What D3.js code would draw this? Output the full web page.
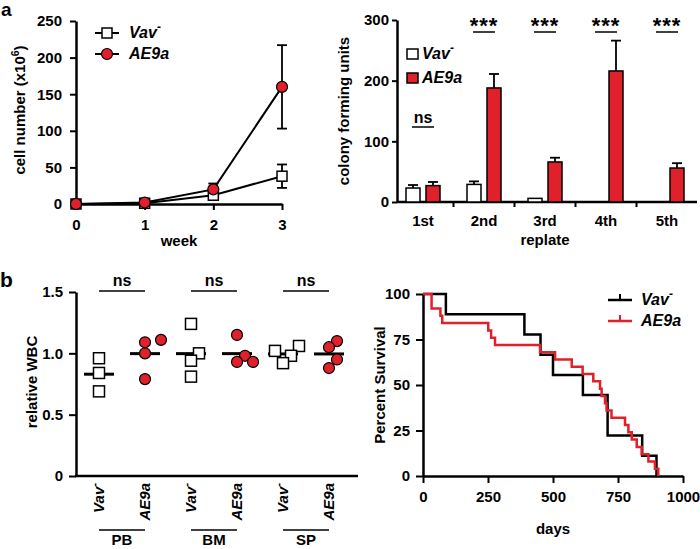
<!DOCTYPE html>
<html><head><meta charset="utf-8">
<script src="https://cdn.jsdelivr.net/npm/d3@7"></script>
<style>
body{margin:0;background:#fff}
svg{font-family:"Liberation Sans",Arial,Helvetica,sans-serif;font-weight:bold}
</style></head><body>
<svg id="c" width="700" height="549"></svg>
<script>
// ---------- data ----------
const weeks = [0, 1, 2, 3];
const vavCells = [0, 1, 12, 38];
const vavCellsErr = [0, 0.5, 2, 16];
const ae9aCells = [0, 2, 20, 160];
const ae9aCellsErr = [0, 1, 8, 57];
const cellTicks = [0, 50, 100, 150, 200, 250];

const replates = ["1st", "2nd", "3rd", "4th", "5th"];
const vavCFU = [23, 29, 6, 0, 0];
const vavCFUErr = [5, 5, 0, 0, 0];
const ae9aCFU = [27, 188, 66, 216, 56];
const ae9aCFUErr = [6, 23, 7, 50, 8];
const cfuSig = ["ns", "***", "***", "***", "***"];
const cfuTicks = [0, 100, 200, 300];

const tissues = ["PB", "BM", "SP"];
const genotypes = ["Vav", "AE9a"];
const wbcVav = [[0.96, 0.84, 0.69], [1.00, 1.24, 0.94, 0.81], [1.02, 1.06, 0.98, 0.92]];
const wbcAE9a = [[1.09, 1.11, 1.00, 0.79], [0.98, 1.15, 0.93, 0.93], [1.10, 1.05, 0.95, 0.88]];
const wbcSig = ["ns", "ns", "ns"];
const wbcTicks = [0, 0.5, 1.0, 1.5];

const vavDeaths = [88, 390, 452, 500, 615, 710, 710, 843, 898];
const ae9aDeaths = [33, 33, 67, 74, 251, 262, 277, 450, 508, 572, 614, 655, 681, 687, 700, 706, 725, 777, 790, 803, 822, 841, 867, 892, 905];
const dayTicks = [0, 250, 500, 750, 1000];
const survTicks = [0, 25, 50, 75, 100];

// ---------- helpers ----------
const RED = "#e0202a";
const FONT = '"Liberation Sans", Arial, Helvetica, sans-serif';
const svg = d3.select("#c");

function fmtAxis(g) {
  g.attr("font-size", 15).attr("font-family", FONT).attr("font-weight", "bold");
  g.select(".domain").attr("stroke", "#000").attr("stroke-width", 2.5);
  g.selectAll(".tick line").attr("stroke", "#000").attr("stroke-width", 2);
  g.selectAll(".tick text").attr("fill", "#000");
}
function genoText(sel, g) {
  if (g === "Vav") {
    sel.append("tspan").text("Vav");
    sel.append("tspan").attr("baseline-shift", "super").attr("font-size", "0.75em").text("-");
  } else {
    sel.append("tspan").text("AE9a");
  }
}
function yTitle(x, y, build) {
  const t = svg.append("text").attr("transform", `translate(${x},${y}) rotate(-90)`)
    .attr("text-anchor", "middle").attr("font-size", 15);
  build(t);
}
function xTitle(x, y, txt) {
  svg.append("text").attr("x", x).attr("y", y).attr("text-anchor", "middle").attr("font-size", 15).text(txt);
}

// panel letters
svg.append("text").attr("x", 1).attr("y", 16).attr("font-size", 19).text("a");
svg.append("text").attr("x", 0).attr("y", 287).attr("font-size", 21).text("b");

// ---------- panel a (left): growth ----------
{
  const x = d3.scaleLinear().domain([0, 3]).range([76, 282]);
  const y = d3.scaleLinear().domain([0, 250]).range([204, 21]);
  const g = svg.append("g");
  g.append("g").attr("transform", "translate(0,204)")
    .call(d3.axisBottom(x).tickValues(weeks).tickFormat(d3.format("d")).tickSize(6).tickPadding(9).tickSizeOuter(0))
    .call(fmtAxis);
  g.append("g").attr("transform", "translate(76,0)")
    .call(d3.axisLeft(y).tickValues(cellTicks).tickSize(6).tickPadding(8).tickSizeOuter(0))
    .call(fmtAxis);

  const series = [
    { vals: vavCells, err: vavCellsErr, key: "Vav" },
    { vals: ae9aCells, err: ae9aCellsErr, key: "AE9a" }
  ];
  const line = d3.line().x((d, i) => x(weeks[i])).y(d => y(d));
  series.forEach(s => {
    s.vals.forEach((v, i) => {
      const e = s.err[i];
      if (e < 3) return;
      const cx = x(weeks[i]);
      g.append("line").attr("x1", cx).attr("x2", cx).attr("y1", y(v - e)).attr("y2", y(v + e)).attr("stroke", "#000").attr("stroke-width", 1.8);
      [v - e, v + e].forEach(b => g.append("line").attr("x1", cx - 5).attr("x2", cx + 5).attr("y1", y(b)).attr("y2", y(b)).attr("stroke", "#000").attr("stroke-width", 1.8));
    });
  });
  series.forEach(s => {
    g.append("path").attr("d", line(s.vals)).attr("fill", "none").attr("stroke", "#000").attr("stroke-width", 2);
  });
  series.forEach(s => {
    s.vals.forEach((v, i) => {
      if (s.key === "Vav") {
        g.append("rect").attr("x", x(weeks[i]) - 5).attr("y", y(v) - 5).attr("width", 10).attr("height", 10)
          .attr("fill", "#fff").attr("stroke", "#000").attr("stroke-width", 1.5);
      } else {
        g.append("circle").attr("cx", x(weeks[i])).attr("cy", y(v)).attr("r", 5.5)
          .attr("fill", RED).attr("stroke", "#000").attr("stroke-width", 1.2);
      }
    });
  });
  // legend
  [["Vav", 33], ["AE9a", 54]].forEach(([k, ly]) => {
    g.append("line").attr("x1", 95).attr("x2", 119).attr("y1", ly).attr("y2", ly).attr("stroke", "#000").attr("stroke-width", 2);
    if (k === "Vav") g.append("rect").attr("x", 102).attr("y", ly - 5).attr("width", 10).attr("height", 10).attr("fill", "#fff").attr("stroke", "#000").attr("stroke-width", 1.5);
    else g.append("circle").attr("cx", 107).attr("cy", ly).attr("r", 5.5).attr("fill", RED).attr("stroke", "#000").attr("stroke-width", 1.2);
    const t = g.append("text").attr("x", 129).attr("y", ly + 5).attr("font-size", 16).attr("font-style", "italic");
    genoText(t, k);
  });
  yTitle(25, 110, t => {
    t.append("tspan").text("cell number (x10");
    t.append("tspan").attr("baseline-shift", "super").attr("font-size", "0.7em").text("6");
    t.append("tspan").text(")");
  });
  xTitle(179, 246, "week");
}

// ---------- panel a (right): colony forming units ----------
{
  const x = d3.scaleBand().domain(replates).range([392.5, 697.5]).paddingInner(0).paddingOuter(0);
  const xi = d3.scaleBand().domain(genotypes).range([13.5, 47.5]).paddingInner(0.3);
  const y = d3.scaleLinear().domain([0, 300]).range([202, 20]);
  const g = svg.append("g");
  g.append("g").attr("transform", "translate(397,0)")
    .call(d3.axisLeft(y).tickValues(cfuTicks).tickSize(5).tickPadding(3).tickSizeOuter(0))
    .call(fmtAxis);
  const xa = g.append("g").attr("transform", "translate(0,202)")
    .call(d3.axisBottom(x).tickSize(0).tickPadding(13)).call(fmtAxis);
  xa.select(".domain").remove();
  g.append("line").attr("x1", 397).attr("x2", 697).attr("y1", 202).attr("y2", 202).attr("stroke", "#000").attr("stroke-width", 2.5);
  replates.slice(1).forEach(r => {
    g.append("line").attr("x1", x(r)).attr("x2", x(r)).attr("y1", 202).attr("y2", 207).attr("stroke", "#000").attr("stroke-width", 2);
  });
  const groups = [
    { key: "Vav", vals: vavCFU, err: vavCFUErr, fill: "#fff" },
    { key: "AE9a", vals: ae9aCFU, err: ae9aCFUErr, fill: RED }
  ];
  groups.forEach(s => {
    s.vals.forEach((v, i) => {
      const bx = x(replates[i]) + xi(s.key), bw = xi.bandwidth();
      if (s.err[i] > 0) {
        const cx = bx + bw / 2;
        g.append("line").attr("x1", cx).attr("x2", cx).attr("y1", y(v)).attr("y2", y(v + s.err[i])).attr("stroke", "#000").attr("stroke-width", 1.8);
        g.append("line").attr("x1", cx - 5).attr("x2", cx + 5).attr("y1", y(v + s.err[i])).attr("y2", y(v + s.err[i])).attr("stroke", "#000").attr("stroke-width", 1.8);
      }
      if (v > 0) {
        g.append("rect").attr("x", bx).attr("y", y(v)).attr("width", bw).attr("height", y(0) - y(v))
          .attr("fill", s.fill).attr("stroke", "#000").attr("stroke-width", 1.5);
      }
    });
  });
  cfuSig.forEach((s, i) => {
    const r = replates[i];
    const x1 = x(r) + xi("Vav") + xi.bandwidth() / 2, x2 = x(r) + xi("AE9a") + xi.bandwidth() / 2;
    const ly = s === "ns" ? 127 : 32;
    g.append("line").attr("x1", x1 - 1).attr("x2", x2 + 1).attr("y1", ly).attr("y2", ly).attr("stroke", "#000").attr("stroke-width", 1.5);
    g.append("text").attr("x", (x1 + x2) / 2).attr("y", s === "ns" ? ly - 4 : ly + 1).attr("text-anchor", "middle")
      .attr("font-size", s === "ns" ? 16 : 22).attr("letter-spacing", s === "ns" ? 0 : 1).text(s);
  });
  // legend
  [["Vav", 49, "#fff"], ["AE9a", 73, RED]].forEach(([k, ly, f]) => {
    g.append("rect").attr("x", 407).attr("y", ly).attr("width", 11).attr("height", 10).attr("fill", f).attr("stroke", "#000").attr("stroke-width", 1.5);
    const t = g.append("text").attr("x", 422).attr("y", ly + 10).attr("font-size", 16).attr("font-style", "italic");
    genoText(t, k);
  });
  yTitle(349, 111, t => t.text("colony forming units"));
  xTitle(545, 245, "replate");
}

// ---------- panel b (left): relative WBC ----------
{
  const cats = tissues.flatMap(t => genotypes.map(gn => t + "|" + gn));
  const x = d3.scalePoint().domain(cats).range([99, 329]);
  const y = d3.scaleLinear().domain([0, 1.5]).range([476, 292]);
  const g = svg.append("g");
  g.append("g").attr("transform", "translate(76,0)")
    .call(d3.axisLeft(y).tickValues(wbcTicks).tickFormat(d => d === 0 ? "0" : d3.format(".1f")(d)).tickSize(7).tickPadding(6).tickSizeOuter(0))
    .call(fmtAxis);
  g.append("line").attr("x1", 75).attr("x2", 358).attr("y1", 476).attr("y2", 476).attr("stroke", "#000").attr("stroke-width", 2.5);

  // simple beeswarm placement (collision based)
  function swarm(vals, cx) {
    const D = 10, step = 8, placed = [];
    const order = vals.map((v, i) => i).sort((a, b) => vals[a] - vals[b]);
    const out = new Array(vals.length);
    order.forEach(i => {
      const py = y(vals[i]);
      for (const k of [0, 1, -1, 2, -2, 3, -3]) {
        const px = cx + k * step;
        if (placed.every(p => Math.hypot(p[0] - px, p[1] - py) >= D)) { placed.push([px, py]); out[i] = [px, py]; break; }
      }
    });
    return out;
  }

  tissues.forEach((t, ti) => {
    genotypes.forEach(gn => {
      const vals = gn === "Vav" ? wbcVav[ti] : wbcAE9a[ti];
      const cx = x(t + "|" + gn);
      const m = d3.mean(vals);
      g.append("line").attr("x1", cx - 15).attr("x2", cx + 15).attr("y1", y(m)).attr("y2", y(m)).attr("stroke", "#000").attr("stroke-width", 3);
      swarm(vals, cx).forEach(([px, py]) => {
        if (gn === "Vav") g.append("rect").attr("x", px - 5.5).attr("y", py - 5.5).attr("width", 11).attr("height", 11).attr("fill", "#fff").attr("stroke", "#000").attr("stroke-width", 1.5);
        else g.append("circle").attr("cx", px).attr("cy", py).attr("r", 5.5).attr("fill", RED).attr("stroke", "#000").attr("stroke-width", 1.2);
      });
      const lt = g.append("text").attr("transform", `translate(${cx},483) rotate(-90)`).attr("text-anchor", "end")
        .attr("dy", "0.35em").attr("font-size", 15).attr("font-style", "italic");
      genoText(lt, gn);
    });
    const x1 = x(t + "|Vav"), x2 = x(t + "|AE9a");
    g.append("line").attr("x1", x1).attr("x2", x2).attr("y1", 291).attr("y2", 291).attr("stroke", "#000").attr("stroke-width", 1.5);
    g.append("text").attr("x", (x1 + x2) / 2).attr("y", 286).attr("text-anchor", "middle").attr("font-size", 16).text(wbcSig[ti]);
    g.append("line").attr("x1", x1).attr("x2", x2).attr("y1", 530).attr("y2", 530).attr("stroke", "#000").attr("stroke-width", 1.5);
    g.append("text").attr("x", (x1 + x2) / 2).attr("y", 545).attr("text-anchor", "middle").attr("font-size", 15).text(t);
  });
  yTitle(37, 382, t => t.text("relative WBC"));
}

// ---------- panel b (right): survival ----------
{
  const x = d3.scaleLinear().domain([0, 1000]).range([423, 683]);
  const y = d3.scaleLinear().domain([0, 100]).range([476, 294]);
  const g = svg.append("g");
  g.append("g").attr("transform", "translate(0,476)")
    .call(d3.axisBottom(x).tickValues(dayTicks).tickFormat(d3.format("d")).tickSize(7).tickPadding(8).tickSizeOuter(0))
    .call(fmtAxis);
  g.append("g").attr("transform", "translate(423,0)")
    .call(d3.axisLeft(y).tickValues(survTicks).tickSize(7).tickPadding(6).tickSizeOuter(0))
    .call(fmtAxis);

  function km(deaths) {
    const n = deaths.length;
    const times = Array.from(new Set(deaths)).sort((a, b) => a - b);
    let atRisk = n, s = 100;
    const pts = [[0, 100]];
    times.forEach(t => {
      const d = deaths.filter(v => v === t).length;
      s = s * (1 - d / atRisk);
      atRisk -= d;
      pts.push([t, s]);
    });
    return pts;
  }
  const line = d3.line().x(d => x(d[0])).y(d => y(d[1])).curve(d3.curveStepAfter);
  g.append("path").attr("d", line(km(vavDeaths))).attr("fill", "none").attr("stroke", "#000").attr("stroke-width", 2.5);
  g.append("path").attr("d", line(km(ae9aDeaths))).attr("fill", "none").attr("stroke", RED).attr("stroke-width", 2.5);

  [["Vav", 300, "#000"], ["AE9a", 321, RED]].forEach(([k, ly, c]) => {
    g.append("line").attr("x1", 608).attr("x2", 632).attr("y1", ly).attr("y2", ly).attr("stroke", c).attr("stroke-width", 2.5);
    g.append("line").attr("x1", 620).attr("x2", 620).attr("y1", ly - 6).attr("y2", ly).attr("stroke", c).attr("stroke-width", 2);
    const t = g.append("text").attr("x", 641).attr("y", ly + 5).attr("font-size", 16).attr("font-style", "italic");
    genoText(t, k);
  });
  yTitle(385, 385, t => t.text("Percent Survival"));
  xTitle(553, 534, "days");
}
</script>
</body></html>
